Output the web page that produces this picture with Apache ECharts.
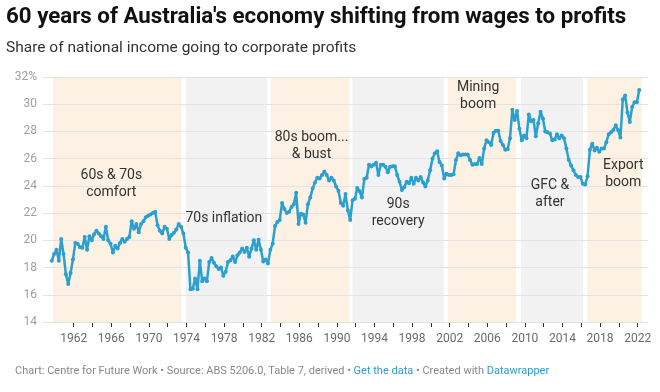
<!DOCTYPE html>
<html><head><meta charset="utf-8">
<script src="https://cdn.jsdelivr.net/npm/echarts@6/dist/echarts.min.js"></script>
<style>html,body{margin:0;padding:0;background:#fff}#c{width:660px;height:392px}</style>
</head><body><div id="c"></div>
<script>
// Quarterly share of national income going to corporate profits (%), Sep 1959 – Mar 2022
const firstQuarterYear = 1959 + 8 / 12; // September quarter 1959
const share1959to1978 = [
  18.5, 19.0, 19.3, 18.5, 20.1, 19.0, 17.5, 16.8, 17.6, 18.6,
  19.8, 19.75, 19.5, 19.45, 20.25, 19.3, 20.3, 20.0, 20.45, 20.7,
  20.5, 20.3, 20.1, 21.0, 20.0, 19.75, 19.1, 19.6, 19.4, 19.8,
  20.1, 19.9, 20.1, 20.25, 21.4, 20.85, 21.2, 20.6, 21.2, 21.4,
  21.7, 21.8, 21.9, 22.0, 22.1, 21.1, 20.7, 20.5, 21.0, 20.85,
  20.1, 20.4, 20.55, 20.8, 21.2, 21.0, 20.5, 19.45, 19.1, 16.4,
  16.45, 17.2, 16.4, 18.5, 17.0, 17.2, 17.0, 18.4, 18.7, 18.35,
  18.1, 17.9, 18.0, 17.4, 17.7, 18.4
];
const share1978to1999 = [
  18.53, 18.82, 18.4, 18.9, 19.1, 19.4, 19.15, 19.45, 18.8, 19.4,
  20.0, 19.3, 20.05, 19.3, 18.45, 18.6, 18.3, 19.3, 19.75, 21.05,
  21.35, 21.5, 22.75, 22.3, 22.0, 22.1, 22.45, 22.65, 23.5, 21.2,
  21.95, 21.9, 21.3, 22.65, 23.15, 23.8, 24.25, 24.6, 24.55, 24.8,
  25.05, 24.8, 24.4, 24.6, 24.4, 23.95, 23.65, 22.75, 22.55, 23.4,
  22.2, 21.5, 22.95, 23.05, 23.85, 23.6, 23.15, 24.5, 24.6, 25.55,
  25.45, 25.55, 25.7, 24.8, 25.55, 25.55, 25.4, 25.0, 25.4, 25.45,
  25.45, 24.8, 24.3, 23.7, 23.9, 24.3, 24.2, 24.6, 24.15, 24.6,
  24.4, 24.65, 24.25, 23.95, 24.4, 25.15
];
const share2000to2022 = [
  26.0, 26.4, 26.55, 25.75, 25.5, 24.55, 24.9, 24.8, 24.8, 24.85,
  25.9, 26.4, 26.25, 26.3, 26.3, 26.3, 25.9, 25.55, 25.6, 25.6,
  26.05, 25.6, 26.75, 27.35, 27.2, 27.0, 27.9, 28.05, 28.05, 27.3,
  27.0, 26.65, 26.7, 27.5, 29.6, 28.85, 29.5, 28.2, 27.35, 27.7,
  27.5, 29.25, 28.75, 28.85, 27.65, 28.6, 29.45, 28.95, 28.0, 27.95,
  27.85, 27.35, 27.4, 27.8, 27.5, 27.7, 27.5, 26.75, 25.9, 25.5,
  25.15, 24.8, 24.65, 24.65, 24.15, 24.1, 24.7, 26.65, 27.1, 26.6,
  26.8, 26.5, 26.75, 26.75, 27.2, 27.8, 27.95, 28.1, 28.45, 28.1,
  27.55, 30.35, 30.65, 29.4, 28.7, 29.8, 30.15, 30.15, 31.05
];
const profitShare = share1959to1978.concat(share1978to1999, share2000to2022);

// Shaded periods [start year, end year, kind]
const periodStarts = [1959.80, 1973.92, 1982.97, 1991.66, 2001.81, 2009.58, 2016.64];
const periodEnds   = [1973.46, 1982.57, 1991.35, 2001.38, 2009.05, 2016.18, 2022.43];
const periodKinds  = ['warm', 'grey', 'warm', 'grey', 'warm', 'grey', 'warm'];
const periodLabels = ['60s & 70s\ncomfort', '70s inflation', '80s boom...\n& bust', '90s\nrecovery', 'Mining\nboom', 'GFC &\nafter', 'Export\nboom'];
const labelAnchors = [[1966.0, 24.11], [1977.97, 21.62], [1987.3, 26.93], [1996.52, 22.0], [2005.03, 30.63], [2012.67, 23.4], [2020.47, 24.87]];

const yTicks = [14, 16, 18, 20, 22, 24, 26, 28, 30, 32];
const xTickYears = [];
for (let y = 1962; y <= 2022; y += 2) xTickYears.push(y);
const xLabelYears = xTickYears.filter((y, i) => i % 2 === 0);

const seriesData = profitShare.map((v, k) => [firstQuarterYear + k / 4, v]);
const bandColor = { warm: '#fdf1e3', grey: '#f2f2f2' };

const chart = echarts.init(document.getElementById('c'), null, { renderer: 'canvas' });
chart.setOption({
  animation: false,
  textStyle: { fontFamily: 'Roboto' },
  grid: { left: 43, right: 12, top: 77, bottom: 70 },
  xAxis: {
    type: 'value', min: 1958.73, max: 2023.1,
    axisLine: { show: false },
    splitLine: { show: false },
    axisTick: { show: true, customValues: xTickYears, length: 5, lineStyle: { color: '#333' } },
    axisLabel: { customValues: xLabelYears, color: '#6b6b6b', fontSize: 12, margin: 11, formatter: v => String(Math.round(v)) }
  },
  yAxis: {
    type: 'value', min: 14, max: 32, interval: 2, z: 2,
    axisLine: { show: false }, axisTick: { show: false },
    splitLine: { lineStyle: { color: '#e3e3e3', width: 1 } },
    axisLabel: { color: '#a0a0a0', fontSize: 12, margin: 6, formatter: v => v === 32 ? '32%' : String(v) }
  },
  graphic: [
    { type: 'text', left: 6, top: 6, style: { text: "60 years of Australia's economy shifting from wages to profits", font: 'bold 22.3px Roboto', fill: '#111' } },
    { type: 'text', left: 6, top: 40, style: { text: 'Share of national income going to corporate profits', font: '15.5px Roboto', fill: '#333' } },
    { type: 'text', left: 15, top: 366, style: {
      text: '{g|Chart: Centre for Future Work • Source: ABS 5206.0, Table 7, derived • }{b|Get the data}{g| • Created with }{b|Datawrapper}',
      rich: { g: { fontSize: 11, fontFamily: 'Roboto', fill: '#888' }, b: { fontSize: 11, fontFamily: 'Roboto', fill: '#2a9bd3' } } } }
  ],
  series: [
    {
      type: 'line', data: [], z: 1, silent: true,
      markArea: {
        silent: true,
        data: periodStarts.map((s, i) => [
          { xAxis: s, itemStyle: { color: bandColor[periodKinds[i]] } },
          { xAxis: periodEnds[i] }
        ])
      }
    },
    {
      type: 'line', data: seriesData, z: 3,
      symbol: 'circle', symbolSize: 4, showSymbol: true,
      lineStyle: { color: '#2aa0d0', width: 2.5 },
      itemStyle: { color: '#2aa0d0' },
      markPoint: {
        symbol: 'circle', symbolSize: 0, silent: true,
        label: { show: true, position: 'inside', color: '#333', fontSize: 14, lineHeight: 17, align: 'center', verticalAlign: 'middle', fontFamily: 'Roboto' },
        data: periodLabels.map((t, i) => ({ coord: labelAnchors[i], value: t, label: { formatter: t } }))
      }
    }
  ]
});
</script></body></html>
